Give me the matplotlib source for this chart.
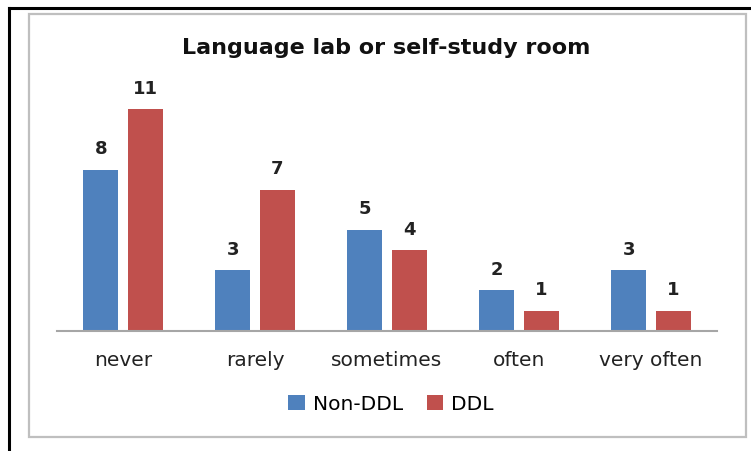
import matplotlib
matplotlib.use("Agg")
import matplotlib.pyplot as plt
from matplotlib.patches import Rectangle
from matplotlib.lines import Line2D
import numpy as np

categories = ["never", "rarely", "sometimes", "often", "very often"]
non_ddl = [8, 3, 5, 2, 3]
ddl = [11, 7, 4, 1, 1]
series_names = ["Non-DDL", "DDL"]
title = "Language lab or self-study room"

W, H = 751, 452
fig = plt.figure(figsize=(W / 100, H / 100), dpi=100)
plt.rcParams['font.family'] = ['DejaVu Sans']

def fx(px):
    return px / W

def fy(py):
    return 1 - py / H

# outer black frame (top and left)
fig.add_artist(Line2D([fx(9), fx(751)], [fy(9), fy(9)], color="black", lw=2.2))
fig.add_artist(Line2D([fx(9), fx(9)], [fy(9), fy(452)], color="black", lw=2.2))
# inner gray chart frame
fig.add_artist(Rectangle((fx(29), fy(438)), fx(746) - fx(29), fy(15) - fy(438),
                         fill=False, edgecolor="#BFBFBF", lw=1.6))

base_y = 331.7
top_y = base_y - 12 * 20.15
ax = fig.add_axes([fx(57), fy(base_y), fx(717) - fx(57), fy(top_y) - fy(base_y)])
x = np.arange(len(categories))
w = 0.265
off = 0.168
b1 = ax.bar(x - off, non_ddl, width=w, color="#4F81BD", label=series_names[0])
b2 = ax.bar(x + off, ddl, width=w, color="#C0504D", label=series_names[1])
ax.set_xlim(-0.5, len(categories) - 0.5)
ax.set_ylim(0, 12)
for s in ["top", "right", "left"]:
    ax.spines[s].set_visible(False)
ax.spines["bottom"].set_color("#A6A6A6")
ax.spines["bottom"].set_linewidth(1.5)
ax.set_yticks([])
ax.set_xticks(x)
ax.set_xticklabels(categories, fontsize=14.5, color="#222222")
ax.tick_params(axis="x", length=0, pad=14)
for bars in (b1, b2):
    ax.bar_label(bars, padding=9, fontsize=13, fontweight="bold", color="#222222")

fig.text(fx(386), fy(48), title, ha="center", va="center", fontsize=16,
         fontweight="bold", color="#111111")

fig.legend(handles=[b1, b2], labels=series_names, loc="center",
           bbox_to_anchor=(fx(391), fy(405)), ncol=2, frameon=False,
           fontsize=14.5, handlelength=0.8, handleheight=0.8, handletextpad=0.4,
           columnspacing=1.2)

fig.savefig("out.png", dpi=100)
